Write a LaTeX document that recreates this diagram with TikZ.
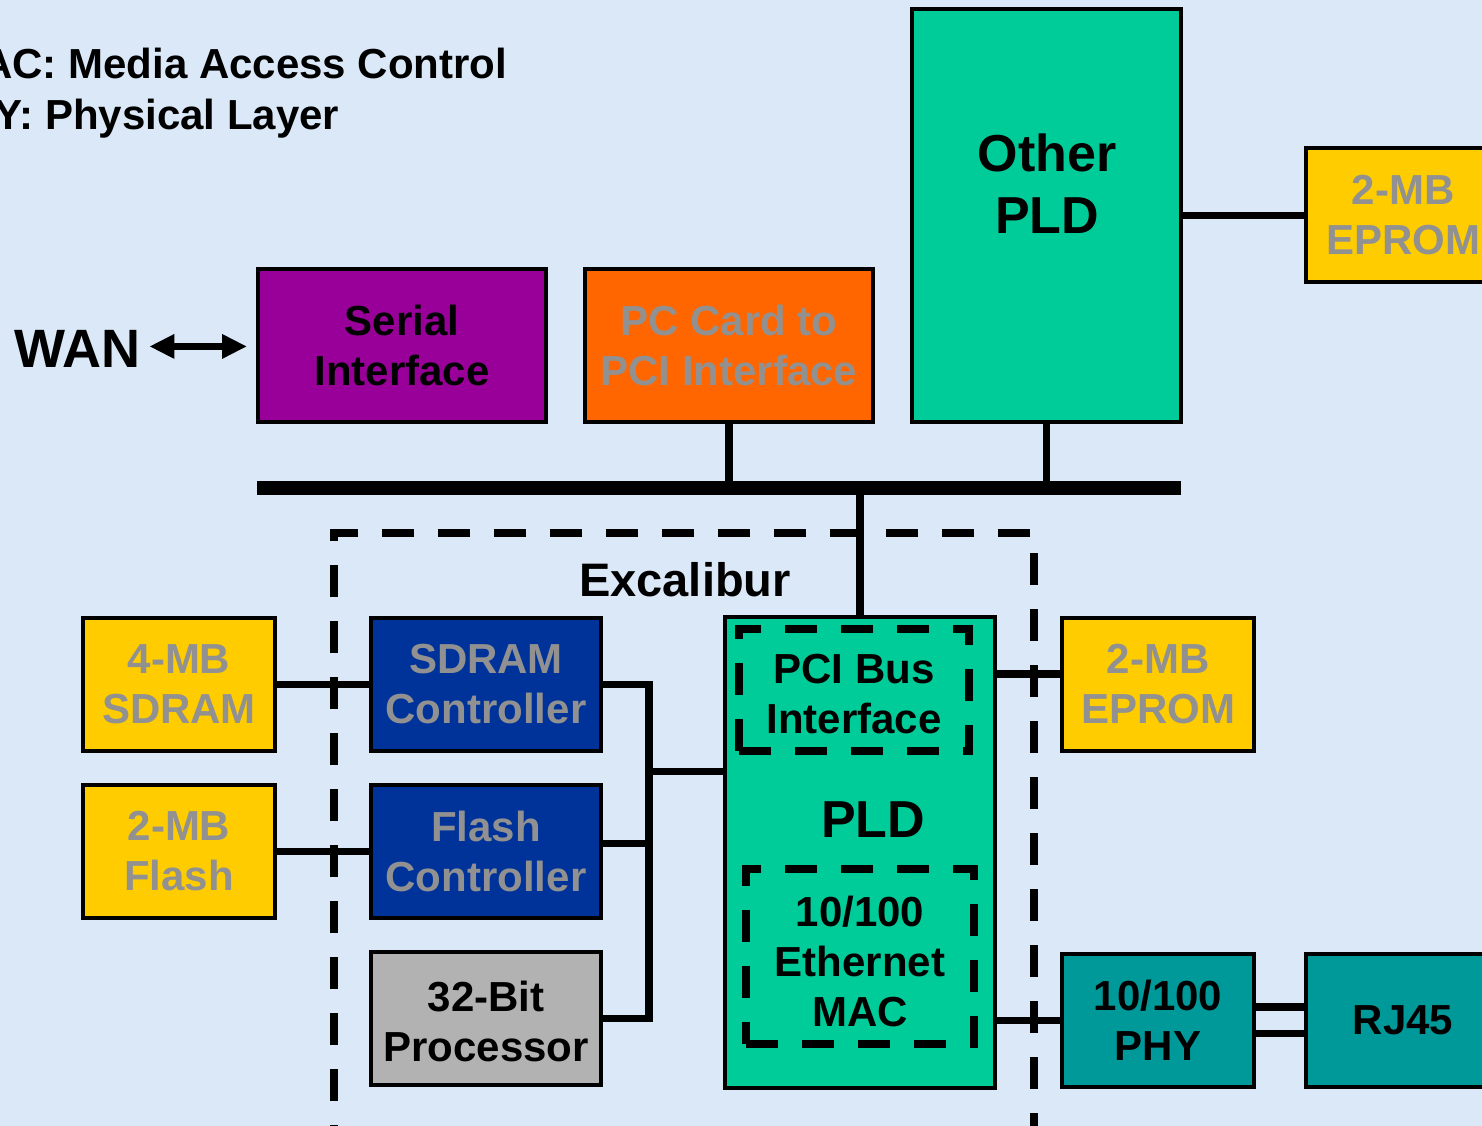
\documentclass[tikz,border=0pt]{standalone}
\usepackage{fontspec}
\setmainfont{Liberation Sans}
\usetikzlibrary{arrows.meta}
\definecolor{bg}{RGB}{218,232,247}
\definecolor{purp}{RGB}{153,0,153}
\definecolor{orng}{RGB}{255,102,0}
\definecolor{pldgreen}{RGB}{0,204,153}
\definecolor{yel}{RGB}{255,204,0}
\definecolor{dblue}{RGB}{0,51,153}
\definecolor{procgray}{RGB}{178,178,178}
\definecolor{teal2}{RGB}{0,153,153}
\definecolor{txtgray}{RGB}{145,145,145}
\newcommand\fnta{\fontsize{42}{50}\selectfont\bfseries}
\newcommand\fntb{\fontsize{52}{62}\selectfont\bfseries}
\newcommand\fntw{\fontsize{54}{62}\selectfont\bfseries}
\newcommand\fnte{\fontsize{47}{56}\selectfont\bfseries}
\begin{document}
\begin{tikzpicture}[x=1pt,y=-1pt,
  box/.style={draw=black, line width=4pt, inner sep=0pt, align=center, font=\fnta},
  dbox/.style={draw=black, line width=8pt, dash pattern=on 32pt off 24pt, inner sep=0pt, outer sep=0pt},
  lbl/.style={inner sep=0pt, align=center, font=\fnta},
  conn/.style={line width=7.5pt},
  gtext/.style={text=txtgray}]
\useasboundingbox (0,0) rectangle (1482,1126);
\clip (0,0) rectangle (1482,1126);
\fill[bg] (0,0) rectangle (1482,1126);

% legend text (clipped at left edge)
\node[anchor=base west, font=\fnta, inner sep=0pt] (legmac) at (-53,79) {MAC: Media Access Control};
\node[anchor=base west, font=\fnta, inner sep=0pt] (legphy) at (-64,130) {PHY: Physical Layer};

% top row
\node[box, fill=purp, minimum width=288pt, minimum height=153pt] (serial) at (402,345.5) {Serial\\Interface};
\node[box, fill=orng, gtext, minimum width=288pt, minimum height=153pt] (pccard) at (729,345.5) {PC Card to\\PCI Interface};
\node[box, fill=pldgreen, minimum width=269pt, minimum height=413pt] (other) at (1046.5,215.5) {};
\node[font=\fntb, align=center] (otherlbl) at (1047,184) {Other\\PLD};
\node[box, fill=yel, gtext, minimum width=194pt, minimum height=134pt] (epromA) at (1403,215) {2-MB\\EPROM};

\node[anchor=base west, font=\fntw, inner sep=0pt] (wan) at (14,367) {WAN};
\draw[line width=6.5pt, {Triangle[length=25pt,width=23pt]}-{Triangle[length=25pt,width=23pt]}, shorten <=9pt, shorten >=9pt]
  ([yshift=2pt]wan.east) -- ([yshift=2pt]wan.east -| serial.west);

\draw[conn] (other.east) -- (other.east -| epromA.west);

% bus
\coordinate (busL) at (257,488);
\coordinate (busR) at (1181,488);
\draw[conn] (pccard.south) -- (pccard.south |- busL);
\draw[conn] (other.south) -- (other.south |- busL);
\draw[line width=14pt] (busL) -- (busR);

% Excalibur region
\node[dbox, minimum width=700pt, minimum height=640pt, anchor=north west] (exc) at (334,533) {};
\node[font=\fnte] (exclbl) at (685,580) {Excalibur};

% left memories and controllers
\node[box, fill=yel, gtext, minimum width=192pt, minimum height=133pt] (sdram) at (179,684.5) {4-MB\\SDRAM};
\node[box, fill=yel, gtext, minimum width=192pt, minimum height=133pt] (flash) at (179,851.5) {2-MB\\Flash};
\node[box, fill=dblue, gtext, minimum width=230pt, minimum height=133pt] (sdramctl) at (486,684.5) {SDRAM\\Controller};
\node[box, fill=dblue, gtext, minimum width=230pt, minimum height=133pt] (flashctl) at (486,851.5) {Flash\\Controller};
\node[box, fill=procgray, minimum width=230pt, minimum height=133pt] (proc) at (486,1018.5) {};
\node[lbl] (proclbl) at (486,1021) {32-Bit\\Processor};

% PLD
\node[box, fill=pldgreen, minimum width=269.5pt, minimum height=471pt] (pld) at (859.75,852.5) {};
\node[dbox, minimum width=230pt, minimum height=122pt] (pci) at (854,690) {};
\node[lbl] (pcilbl) at (854,694) {PCI Bus\\Interface};
\node[font=\fntb] (pldlbl) at (873,820) {PLD};
\node[dbox, minimum width=228pt, minimum height=175pt] (emac) at (860,956.5) {};
\node[lbl] (emaclbl) at (860,961) {10/100\\Ethernet\\MAC};

\draw[conn] (pld.north) -- (pld.north |- busL);

\coordinate (jn) at (649,771.5);
\draw[conn] (sdram.east) -- (sdramctl.west);
\draw[conn] (flash.east) -- (flash.east -| flashctl.west);
\draw[conn, line join=miter] (sdramctl.east) -| (jn |- proc.east) -- (proc.east);
\draw[conn] ([yshift=8pt]flashctl.east) -- ([yshift=8pt]flashctl.east -| jn);
\draw[conn] (jn) -- (jn -| pld.west);

% right side
\node[box, fill=yel, gtext, minimum width=192pt, minimum height=133pt] (epromB) at (1158,684.5) {2-MB\\EPROM};
\node[box, fill=teal2, minimum width=192pt, minimum height=133pt] (phy) at (1158,1020.5) {10/100\\PHY};
\node[box, fill=teal2, minimum width=194pt, minimum height=133pt] (rj45) at (1403,1020.5) {RJ45};
\draw[conn] ([yshift=10.5pt]epromB.west -| pld.east) -- ([yshift=10.5pt]epromB.west);
\draw[conn] (phy.west -| pld.east) -- (phy.west);
\draw[conn] ([yshift=13.5pt]phy.east) -- ([yshift=13.5pt]phy.east -| rj45.west);
\draw[conn] ([yshift=-13pt]phy.east) -- ([yshift=-13pt]phy.east -| rj45.west);
\end{tikzpicture}
\end{document}
